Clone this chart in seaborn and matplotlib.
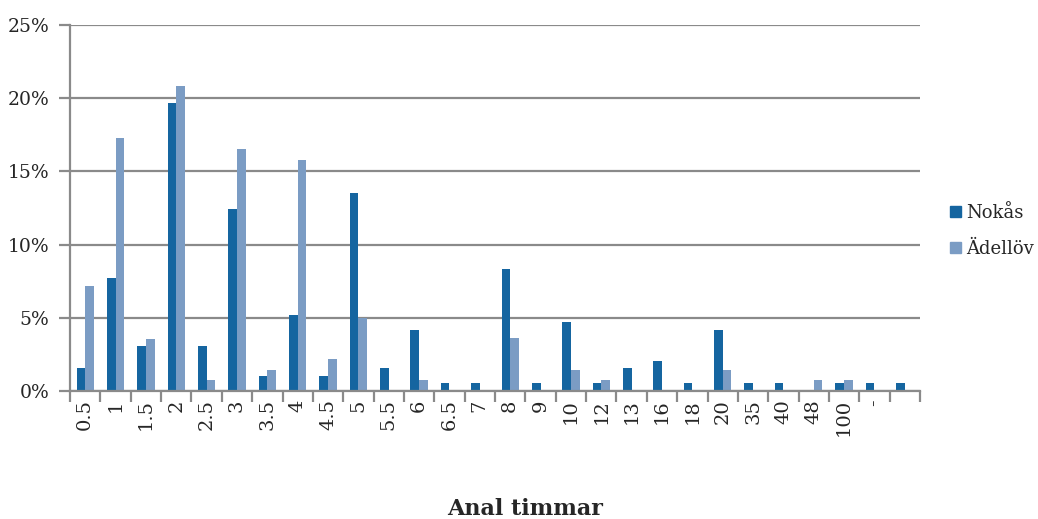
import matplotlib
matplotlib.use("Agg")
import matplotlib.pyplot as plt
import seaborn as sns
import pandas as pd
from matplotlib.ticker import FixedLocator, FuncFormatter

categories = ["0.5", "1", "1.5", "2", "2.5", "3", "3.5", "4", "4.5", "5", "5.5", "6",
              "6.5", "7", "8", "9", "10", "12", "13", "16", "18", "20", "35", "40",
              "48", "100", "-", " "]
nokas = [1.57, 7.7, 3.07, 19.7, 3.07, 12.4, 1.02, 5.2, 1.02, 13.5, 1.57, 4.17,
         0.52, 0.52, 8.3, 0.52, 4.7, 0.52, 1.57, 2.08, 0.52, 4.17, 0.52, 0.52,
         0.0, 0.52, 0.52, 0.52]
adellov = [7.17, 17.3, 3.55, 20.8, 0.72, 16.5, 1.43, 15.8, 2.16, 5.0, 0.0, 0.72,
           0.0, 0.0, 3.6, 0.0, 1.43, 0.72, 0.0, 0.0, 0.0, 1.43, 0.0, 0.0,
           0.72, 0.72, 0.0, 0.0]
series_names = ["Nokås", "Ädellöv"]
colors = ["#1565a0", "#7b9cc4"]

df = pd.DataFrame({
    "kategori": categories * 2,
    "andel": nokas + adellov,
    "serie": [series_names[0]] * len(categories) + [series_names[1]] * len(categories),
})

sns.set_theme(style="white")
plt.rcParams["font.family"] = ["DejaVu Serif"]

fig = plt.figure(figsize=(10.38, 5.19), dpi=100)
ax = fig.add_axes([70 / 1038, 1 - 391 / 519, 850 / 1038, 366 / 519])

sns.barplot(data=df, x="kategori", y="andel", hue="serie", order=categories,
            hue_order=series_names, palette=colors, saturation=1, width=0.57, gap=0,
            linewidth=0, errorbar=None, ax=ax, legend=False)

grid_c = "#8a8a8a"
ax.set_ylim(0, 25)
ax.set_xlim(-0.5, len(categories) - 0.5)
ax.set_yticks([0, 5, 10, 15, 20, 25])
ax.yaxis.set_major_formatter(FuncFormatter(lambda v, p: f"{int(v)}%"))
ax.grid(axis="y", color=grid_c, linewidth=1.6)
ax.set_axisbelow(True)

# category labels in the middle, tick marks on the boundaries
ax.set_xticks(range(len(categories)))
ax.set_xticklabels(categories, rotation=90, fontsize=14)
ax.tick_params(axis="x", which="major", length=0, pad=6)
ax.xaxis.set_minor_locator(FixedLocator([i - 0.5 for i in range(len(categories) + 1)]))
ax.tick_params(axis="x", which="minor", bottom=True, length=8, width=1.6, color=grid_c)
ax.tick_params(axis="y", left=True, length=8, width=1.6, color=grid_c, labelsize=13.5, pad=7)

for side in ["top", "right"]:
    ax.spines[side].set_visible(False)
for side in ["left", "bottom"]:
    ax.spines[side].set_color(grid_c)
    ax.spines[side].set_linewidth(1.6)

ax.set_xlabel("")
ax.set_ylabel("")
fig.text(525 / 1038, 1 - 509 / 519, "Anal timmar", ha="center", va="center",
         fontsize=16, fontweight="bold")

handles = [plt.Rectangle((0, 0), 1, 1, color=c) for c in colors]
fig.legend(handles, series_names, loc="center left", bbox_to_anchor=(950 / 1038, 1 - 231 / 519),
           frameon=False, fontsize=13, handlelength=0.6, handleheight=0.6,
           handletextpad=0.3, labelspacing=1.0, borderpad=0, borderaxespad=0)

fig.savefig("out.png", dpi=100)
